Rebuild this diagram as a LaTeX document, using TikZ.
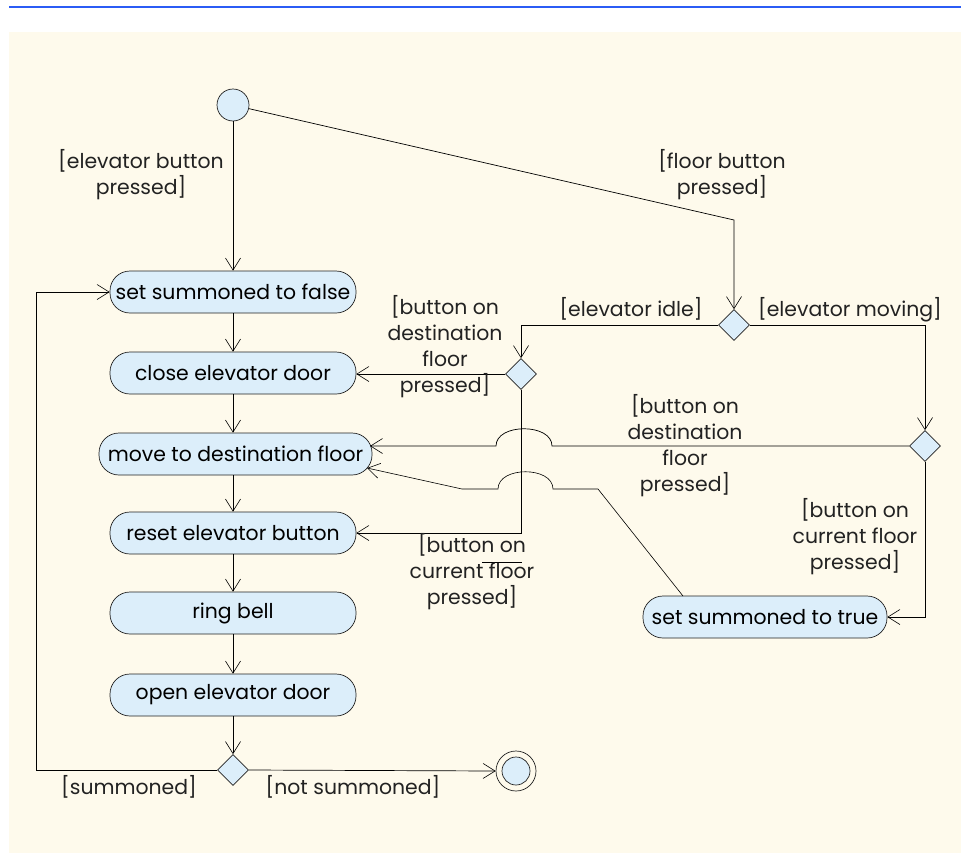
\documentclass[tikz,border=0pt]{standalone}
\usepackage{fontspec}
\setmainfont{Poppins}
\usetikzlibrary{arrows.meta,shapes.geometric}
\definecolor{cream}{HTML}{FEFAEC}
\definecolor{fillblue}{HTML}{DCEEFA}
\definecolor{topblue}{HTML}{2B5CF5}
\definecolor{ink}{HTML}{222222}
\tikzset{
  act/.style={draw=ink, fill=fillblue, rounded corners=20pt, minimum width=246pt, minimum height=42pt, inner sep=0pt, line width=0.7pt},
  dec/.style={draw=ink, fill=fillblue, diamond, aspect=1, minimum width=31pt, minimum height=31pt, inner sep=0pt, line width=0.7pt},
  arr/.style={draw=black, line width=0.7pt, -{Straight Barb[length=12pt,width=15pt,line width=0.6pt]}},
  lbl/.style={align=center, inner sep=0pt, text=ink},
}
\begin{document}
\begin{tikzpicture}[x=1pt,y=-1pt, font=\fontsize{20.4}{26}\selectfont]
\useasboundingbox (0,0) rectangle (961,854);
\fill[cream] (9,32) rectangle (961,853);
\draw[topblue, line width=2pt] (9,7) -- (961,7);

% activity nodes
\node[circle, draw=ink, fill=fillblue, minimum size=32pt, inner sep=0pt, line width=0.7pt] (init) at (233,105) {};
\node[act] (ssf) at (233,292) {set summoned to false};
\node[act] (ced) at (233,373) {close elevator door};
\node[act, minimum width=273pt] (mdf) at (235.5,454) {move to destination floor};
\node[act] (reb) at (233,533) {reset elevator button};
\node[act] (rb) at (233,613) {ring bell};
\node[act] (oed) at (233,695) {open elevator door};
\node[dec] (d4) at (233,770) {};
\node[circle, draw=ink, fill=cream, minimum size=40pt, inner sep=0pt, line width=0.7pt] (fin) at (516,771) {};
\node[circle, draw=ink, fill=fillblue, minimum size=28pt, inner sep=0pt, line width=0.7pt] (fin2) at (516,771) {};
\node[dec] (d2) at (734,325) {};
\node[dec] (d1) at (521,374) {};
\node[dec] (d3) at (925,446) {};
\node[act, minimum width=244pt] (sst) at (765,617) {set summoned to true};

% coordinates
\coordinate (bend1) at (734,220);
\coordinate (lp) at (36,770);
\coordinate (h1a) at (552,446);
\coordinate (h1b) at (496,446);
\coordinate (t1) at (370,446);
\coordinate (s0) at (683,596);
\coordinate (s1) at (598,489);
\coordinate (h2a) at (553,489);
\coordinate (h2b) at (498,489);
\coordinate (s2) at (462,489);
\coordinate (t2) at (367,468);

% main flow
\draw[arr] (init) -- (ssf);
\draw[arr] (ssf) -- (ced);
\draw[arr] (ced) -- (ced |- mdf.north);
\draw[arr] (reb |- mdf.south) -- (reb);
\draw[arr] (reb) -- (rb);
\draw[arr] (rb) -- (oed);
\draw[arr] (oed) -- (d4);
\draw[arr] (d4.west) -- (lp) |- (ssf.west);
\draw[arr] (d4.east) -- (fin.west);

% right side
\draw[arr] (init) -- (bend1) -- (d2.north);
\draw[arr] (d2.west) -| (d1.north);
\draw[arr] (d2.east) -| (d3.north);
\draw[arr] (d1.west) -- (d1.west -| ced.east);
\draw[arr] (d1.south) |- (reb.east);
\draw[arr] (d3.south) |- (sst.east);
\draw[arr] (d3.west) -- (h1a) .. controls (552,423) and (496,423) .. (h1b) -- (t1);
\draw[arr, line width=0.6pt] (s0) -- (s1) -- (h2a) .. controls (553,466) and (498,466) .. (h2b) -- (s2) -- (t2);
\draw[line width=0.6pt] (482,562) -- (522,562);

% labels
\node[lbl] (l1) at (141,175) {[elevator button\\pressed]};
\node[lbl] (l2) at (722,175) {[floor button\\pressed]};
\node[lbl] (l3) at (631,309) {[elevator idle]};
\node[lbl] (l4) at (850,310) {[elevator moving]};
\node[lbl] (l5) at (445,347) {[button on\\destination\\floor\\pressed]};
\node[lbl] (l6) at (685,446) {[button on\\destination\\floor\\pressed]};
\node[lbl] (l7) at (472,572) {[button on\\current floor\\pressed]};
\node[lbl] (l8) at (855,537) {[button on\\current floor\\pressed]};
\node[lbl] (l9) at (129,787) {[summoned]};
\node[lbl] (l10) at (353,787) {[not summoned]};
\end{tikzpicture}
\end{document}
